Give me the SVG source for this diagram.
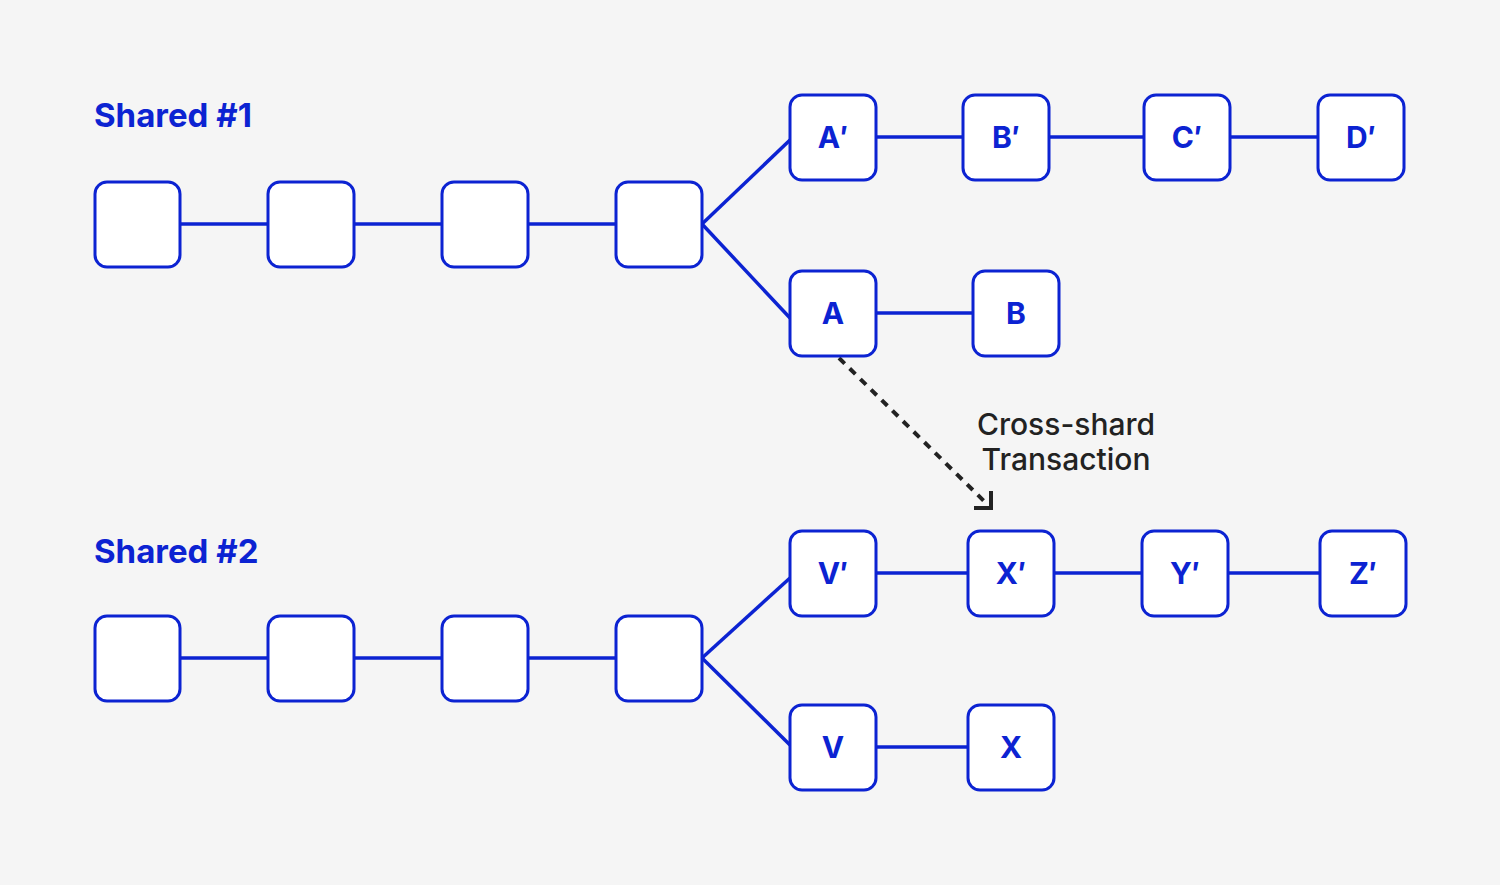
<svg xmlns="http://www.w3.org/2000/svg" width="1500" height="885" viewBox="0 0 1500 885">
<style>
.n{fill:#fff;stroke:#0c23d2;stroke-width:3}
.t{font-family:Inter,"Liberation Sans",sans-serif;font-weight:700;font-size:30px;fill:#0c23d2;text-anchor:middle;dominant-baseline:central}
.h{font-family:Inter,"Liberation Sans",sans-serif;font-weight:700;font-size:33px;fill:#0c23d2}
.c line{stroke:#0c23d2;stroke-width:3.5}
</style>
<rect width="1500" height="885" fill="#f5f5f5"/>
<text class="h" x="94" y="127">Shared #1</text>
<text class="h" x="94" y="563">Shared #2</text>
<g class="c" id="connectors">
<line x1="180" y1="224" x2="268" y2="224"/><line x1="354" y1="224" x2="442" y2="224"/><line x1="528" y1="224" x2="616" y2="224"/>
<line x1="702" y1="224" x2="790" y2="140"/><line x1="702" y1="224" x2="790" y2="318"/>
<line x1="876" y1="137" x2="963" y2="137"/><line x1="1049" y1="137" x2="1144" y2="137"/><line x1="1230" y1="137" x2="1318" y2="137"/>
<line x1="876" y1="313" x2="973" y2="313"/>
<line x1="180" y1="658" x2="268" y2="658"/><line x1="354" y1="658" x2="442" y2="658"/><line x1="528" y1="658" x2="616" y2="658"/>
<line x1="702" y1="658" x2="790" y2="578"/><line x1="702" y1="658" x2="790" y2="745"/>
<line x1="876" y1="573" x2="968" y2="573"/><line x1="1054" y1="573" x2="1142" y2="573"/><line x1="1228" y1="573" x2="1320" y2="573"/>
<line x1="876" y1="747" x2="968" y2="747"/>
<path d="M839 358 L988 505" stroke="#222" stroke-width="4" stroke-dasharray="8 7" fill="none"/>
<path d="M974 508 H991 V491" stroke="#222" stroke-width="4" fill="none"/>
</g>
<text x="1066" y="435" font-family="Inter,'Liberation Sans',sans-serif" font-size="30" font-weight="500" fill="#222" text-anchor="middle">Cross-shard</text>
<text x="1066" y="470" font-family="Inter,'Liberation Sans',sans-serif" font-size="30" font-weight="500" fill="#222" text-anchor="middle">Transaction</text>
<g id="s1a"><rect class="n" x="95" y="182" width="85" height="85" rx="12"/></g>
<g id="s1b"><rect class="n" x="268" y="182" width="86" height="85" rx="12"/></g>
<g id="s1c"><rect class="n" x="442" y="182" width="86" height="85" rx="12"/></g>
<g id="s1d"><rect class="n" x="616" y="182" width="86" height="85" rx="12"/></g>
<g id="Ap"><rect class="n" x="790" y="95" width="86" height="85" rx="12"/><text class="t" x="833" y="137">A′</text></g>
<g id="Bp"><rect class="n" x="963" y="95" width="86" height="85" rx="12"/><text class="t" x="1006" y="137">B′</text></g>
<g id="Cp"><rect class="n" x="1144" y="95" width="86" height="85" rx="12"/><text class="t" x="1187" y="137">C′</text></g>
<g id="Dp"><rect class="n" x="1318" y="95" width="86" height="85" rx="12"/><text class="t" x="1361" y="137">D′</text></g>
<g id="A"><rect class="n" x="790" y="271" width="86" height="85" rx="12"/><text class="t" x="833" y="313">A</text></g>
<g id="B"><rect class="n" x="973" y="271" width="86" height="85" rx="12"/><text class="t" x="1016" y="313">B</text></g>
<g id="s2a"><rect class="n" x="95" y="616" width="85" height="85" rx="12"/></g>
<g id="s2b"><rect class="n" x="268" y="616" width="86" height="85" rx="12"/></g>
<g id="s2c"><rect class="n" x="442" y="616" width="86" height="85" rx="12"/></g>
<g id="s2d"><rect class="n" x="616" y="616" width="86" height="85" rx="12"/></g>
<g id="Vp"><rect class="n" x="790" y="531" width="86" height="85" rx="12"/><text class="t" x="833" y="573">V′</text></g>
<g id="Xp"><rect class="n" x="968" y="531" width="86" height="85" rx="12"/><text class="t" x="1011" y="573">X′</text></g>
<g id="Yp"><rect class="n" x="1142" y="531" width="86" height="85" rx="12"/><text class="t" x="1185" y="573">Y′</text></g>
<g id="Zp"><rect class="n" x="1320" y="531" width="86" height="85" rx="12"/><text class="t" x="1363" y="573">Z′</text></g>
<g id="V"><rect class="n" x="790" y="705" width="86" height="85" rx="12"/><text class="t" x="833" y="747">V</text></g>
<g id="X"><rect class="n" x="968" y="705" width="86" height="85" rx="12"/><text class="t" x="1011" y="747">X</text></g>
</svg>
